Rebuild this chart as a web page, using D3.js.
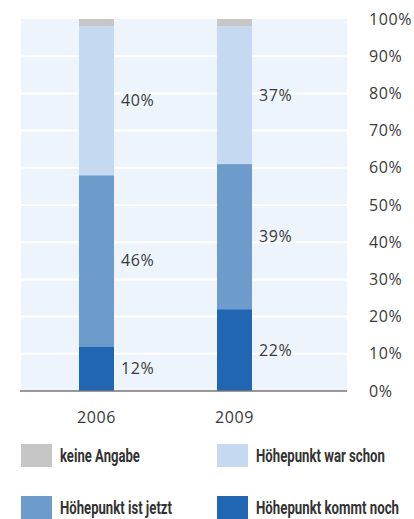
<!DOCTYPE html>
<html>
<head>
  <script src="https://d3js.org/d3.v7.min.js"></script>
  <style>
    body { margin: 0; background: #fff; }
    .num { font-family: "Open Sans", sans-serif; font-size: 16px; letter-spacing: 0.6px; fill: #3a3a3a; }
    .leg { font-family: "Roboto", sans-serif; font-weight: bold; font-size: 18px; fill: #333; }
  </style>
</head>
<body>
<script>
// data
var years = ["2006", "2009"];
var series = ["Höhepunkt kommt noch", "Höhepunkt ist jetzt", "Höhepunkt war schon", "keine Angabe"];
var kommtNoch = [12, 22];
var istJetzt = [46, 39];
var warSchon = [40, 37];
var keineAngabe = [2, 2];
var tickValues = [0, 10, 20, 30, 40, 50, 60, 70, 80, 90, 100];
var colors = ["#2166b2", "#6d9bcb", "#c5d9f1", "#c6c6c6"];
var legWidths = [143, 112, 129, 80]; // condensed look of the original font

var width = 414, height = 519;
var svg = d3.select("body").append("svg").attr("width", width).attr("height", height);

var rows = years.map(function(y, i) {
  return { year: y, s0: kommtNoch[i], s1: istJetzt[i], s2: warSchon[i], s3: keineAngabe[i] };
});
var stack = d3.stack().keys(["s0", "s1", "s2", "s3"]);
var layers = stack(rows);

var x = d3.scalePoint().domain(years).range([96.5, 234.5]);
var y = d3.scaleLinear().domain([0, 100]).range([391, 19]);
var barW = 35;

// background
svg.append("rect").attr("x", 21).attr("y", y(100)).attr("width", 326).attr("height", y(0) - y(100)).attr("fill", "#eef4fc");
svg.selectAll(".grid").data(tickValues.slice(1, -1)).enter().append("line")
  .attr("x1", 21).attr("x2", 347)
  .attr("y1", function(d) { return y(d); }).attr("y2", function(d) { return y(d); })
  .attr("stroke", "#fff").attr("stroke-width", 2);

// bars
svg.selectAll(".layer").data(layers).enter().append("g")
  .attr("fill", function(d, i) { return colors[i]; })
  .selectAll("rect").data(function(d) { return d; }).enter().append("rect")
  .attr("x", function(d) { return x(d.data.year) - barW / 2; })
  .attr("width", barW)
  .attr("y", function(d) { return y(d[1]); })
  .attr("height", function(d) { return y(d[0]) - y(d[1]); });

// value labels (not for keine Angabe)
layers.slice(0, 3).forEach(function(layer) {
  svg.selectAll(null).data(layer).enter().append("text")
    .attr("class", "num")
    .attr("x", function(d) { return x(d.data.year) + barW / 2 + 7; })
    .attr("y", function(d) { return y((d[0] + d[1]) / 2); })
    .attr("dy", "0.35em")
    .text(function(d) { return (d[1] - d[0]) + "%"; });
});

// baseline
svg.append("line").attr("x1", 20).attr("x2", 347).attr("y1", y(0)).attr("y2", y(0))
  .attr("stroke", "#777").attr("stroke-width", 1.5);

// right axis
svg.append("g").attr("transform", "translate(369,0)")
  .call(d3.axisRight(y).tickValues(tickValues).tickSize(0).tickPadding(0).tickFormat(function(d) { return d + "%"; }))
  .call(function(g) { g.select(".domain").remove(); })
  .selectAll("text").attr("class", "num").attr("font-family", null).attr("font-size", null).attr("fill", null);

// x labels
svg.selectAll(".xl").data(years).enter().append("text")
  .attr("class", "num")
  .attr("x", function(d) { return x(d); })
  .attr("y", 417).attr("dy", "0.35em")
  .attr("text-anchor", "middle")
  .text(function(d) { return d; });

// legend
var legOrder = [3, 2, 1, 0];
var legPos = [[21, 444], [217, 444], [21, 496], [217, 496]];
legOrder.forEach(function(si, k) {
  var g = svg.append("g").attr("transform", "translate(" + legPos[k] + ")");
  g.append("rect").attr("width", 31).attr("height", 23).attr("fill", colors[si]);
  var t = g.append("text").attr("class", "leg").attr("dy", "0.35em").text(series[si]);
  // squeeze to the narrow width of the original condensed type
  var sx = legWidths[si] / t.node().getComputedTextLength();
  t.attr("transform", "translate(39,12) scale(" + sx + ",1)");
});
</script>
</body>
</html>
